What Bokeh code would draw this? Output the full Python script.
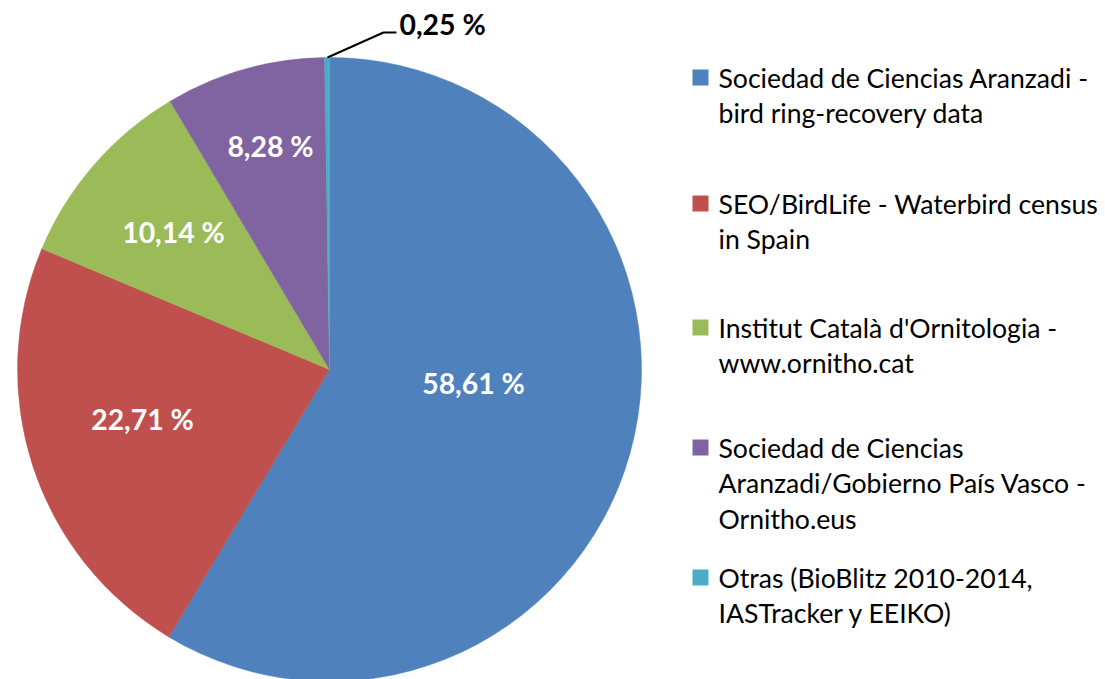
import math
from bokeh.plotting import figure
from bokeh.models import Range1d, ColumnDataSource
from bokeh.core.properties import value
from bokeh.embed import file_html
from bokeh.resources import INLINE

# ---- data ----
sources = [
    "Sociedad de Ciencias Aranzadi -\nbird ring-recovery data",
    "SEO/BirdLife - Waterbird census\nin Spain",
    "Institut Català d'Ornitologia -\nwww.ornitho.cat",
    "Sociedad de Ciencias\nAranzadi/Gobierno País Vasco -\nOrnitho.eus",
    "Otras (BioBlitz 2010-2014,\nIASTracker y EEIKO)",
]
percentages = [58.61, 22.71, 10.14, 8.28, 0.25]
pct_labels = ["58,61 %", "22,71 %", "10,14 %", "8,28 %", "0,25 %"]
colors = ["#4F81BD", "#C0504D", "#9BBB59", "#8064A2", "#4BACC6"]

W, H = 1097, 679
def rx(x):
    return x
def ry(y):
    return H - y

p = figure(width=W, height=H, output_backend="svg", toolbar_location=None,
           x_range=Range1d(0, W), y_range=Range1d(0, H), min_border=0)
p.axis.visible = False
p.grid.visible = False
p.outline_line_color = None
p.background_fill_color = "white"
p.border_fill_color = "white"

# pie
cx, cy, r = rx(329), ry(369), 312
total = sum(percentages)
starts, ends = [], []
acc = 0.0
for v in percentages:
    a0 = math.pi / 2 - 2 * math.pi * acc / total
    acc += v
    a1 = math.pi / 2 - 2 * math.pi * acc / total
    starts.append(a0)
    ends.append(a1)
src = ColumnDataSource(dict(start=starts, end=ends, color=colors))
p.wedge(x=cx, y=cy, radius=r, radius_units="screen", start_angle="start",
        end_angle="end", direction="clock", fill_color="color",
        line_color="color", line_width=0.5, source=src)

# slice labels
lab_pos = [(473, 382), (142, 418), (173, 231), (270, 145)]
for (lx, ly), t in zip(lab_pos, pct_labels[:4]):
    p.text(x=[rx(lx)], y=[ry(ly)], text=[t], text_color="white",
           text_font=value("Lato"), text_font_style="bold",
           text_font_size="28.4px", text_align="center", text_baseline="middle")

# small-slice label with leader
p.line(x=[rx(327), rx(383), rx(396)], y=[ry(57), ry(32), ry(32)],
       line_color="black", line_width=2)
p.text(x=[rx(399)], y=[ry(23)], text=[pct_labels[4]], text_color="black",
       text_font=value("Lato"), text_font_style="bold", text_font_size="28.4px",
       text_align="left", text_baseline="middle")

# legend
item_tops = [77, 203, 327, 447, 577]
line_gap = 35.5
for top, label, col in zip(item_tops, sources, colors):
    p.scatter(x=[rx(700)], y=[ry(top)], marker="square", size=16,
              fill_color=col, line_color=None)
    for i, ln in enumerate(label.split("\n")):
        p.text(x=[rx(718)], y=[ry(top + i * line_gap)], text=[ln],
               text_color="black", text_font=value("Lato"),
               text_font_size="26.6px", text_align="left",
               text_baseline="middle")

open("out.html", "w").write(file_html(p, INLINE))
